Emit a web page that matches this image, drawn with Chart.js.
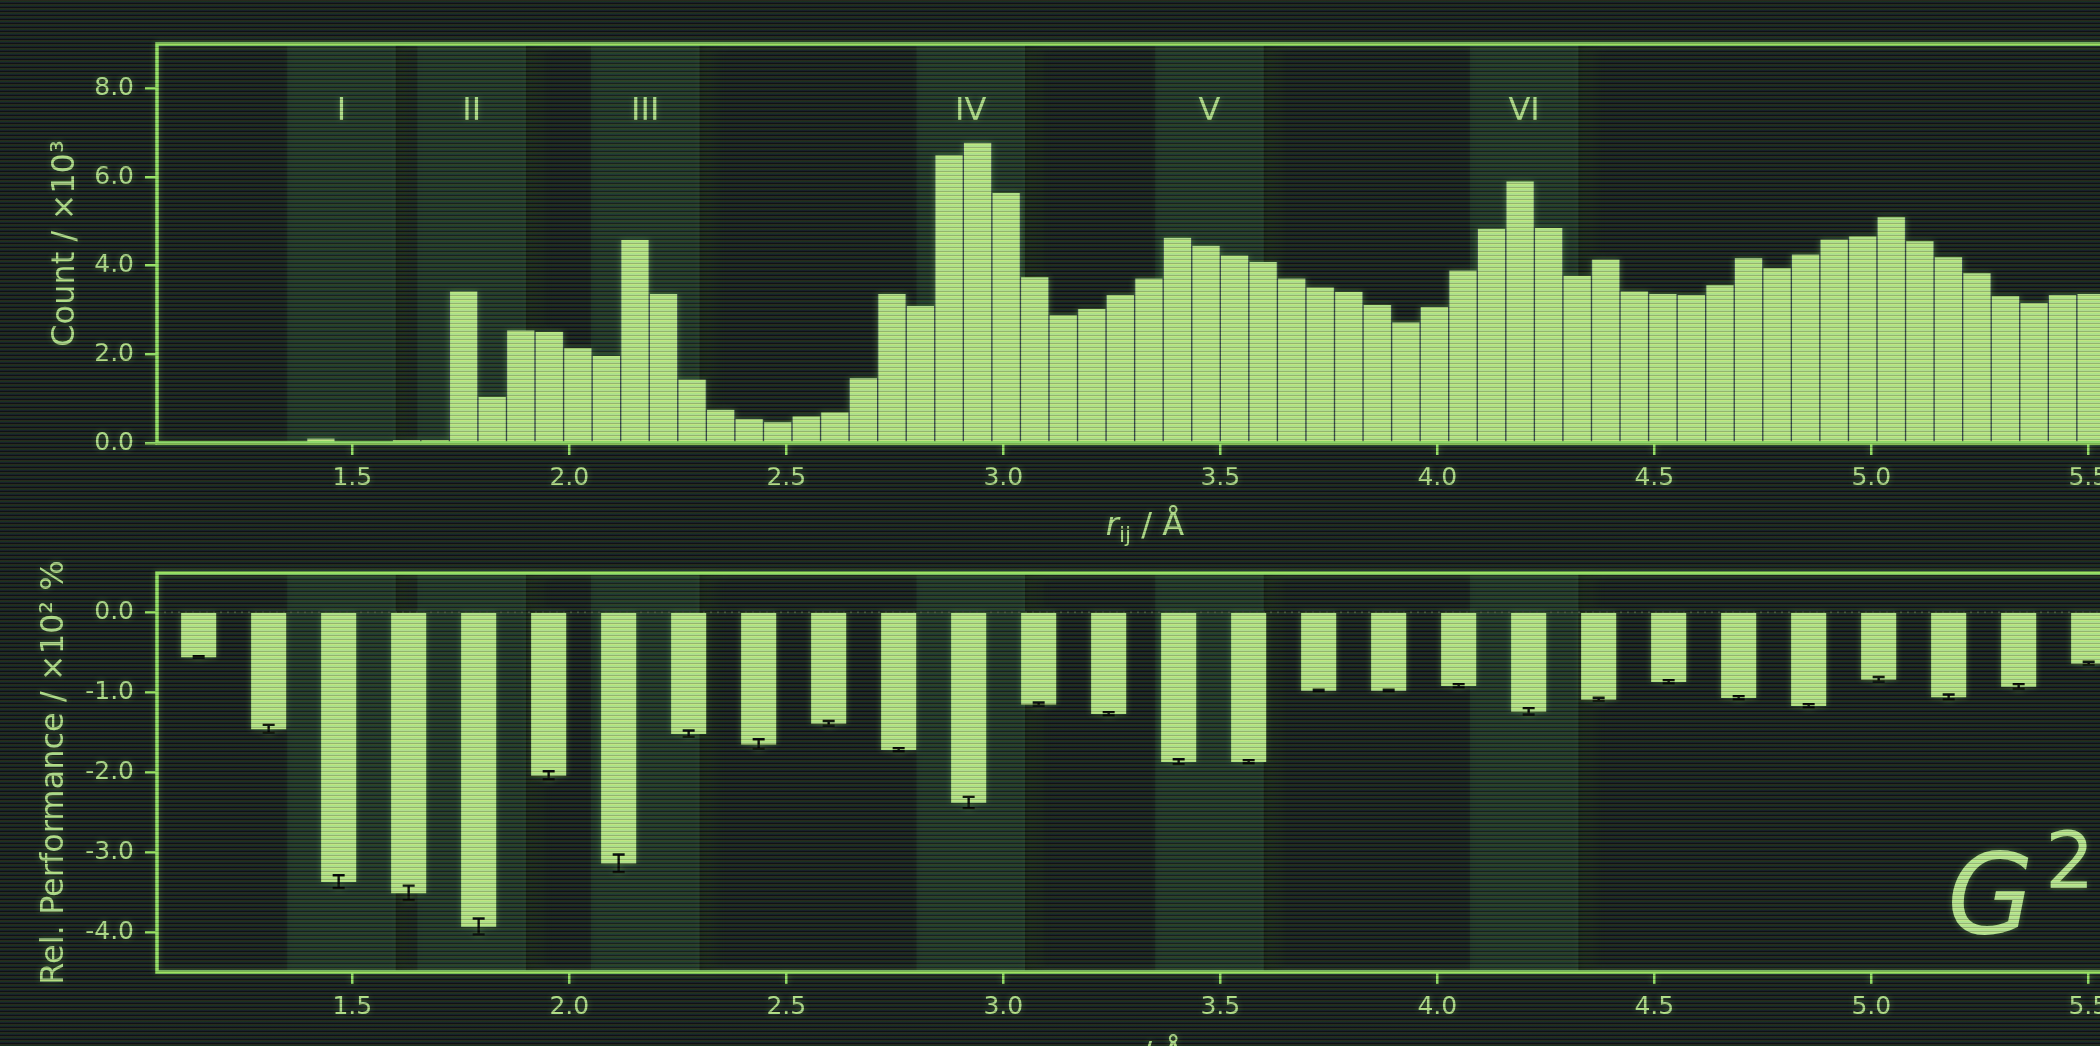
<!DOCTYPE html>
<html>
<head>
<meta charset="utf-8">
<title>Pair distances and relative performance</title>
<script src="https://cdn.jsdelivr.net/npm/chart.js@4.4.1/dist/chart.umd.min.js"></script>
<style>
  html, body { margin: 0; padding: 0; width: 2100px; height: 1046px; overflow: hidden; background: #14181a; }
  .panel { position: absolute; left: 0; filter: drop-shadow(0 0 3px rgba(150, 230, 110, 0.35)); }
  #countChart { top: 0; width: 2150px; height: 560px; }
  #perfChart { top: 560px; width: 2150px; height: 486px; }
  #scanlines {
    position: absolute; left: 0; top: 0; width: 2100px; height: 1046px; pointer-events: none;
    background: repeating-linear-gradient(to bottom,
      rgba(235, 200, 60, 0.10) 0px, rgba(235, 200, 60, 0.10) 1px,
      rgba(60, 210, 80, 0.14) 1px, rgba(60, 210, 80, 0.14) 2px,
      rgba(80, 100, 200, 0.10) 2px, rgba(80, 100, 200, 0.10) 3px,
      rgba(0, 0, 0, 0.22) 3px, rgba(0, 0, 0, 0.22) 4px);
  }
</style>
</head>
<body>
<canvas id="countChart" class="panel" width="2150" height="560"></canvas>
<canvas id="perfChart" class="panel" width="2150" height="486"></canvas>
<div id="scanlines"></div>
<script>
// pair distance histogram, bins of width 5/76 Å starting at 1.0 Å (count / 10^3)
const binStart = 1.0;
const binWidth = 5 / 76;
const pairCounts = [
  0, 0, 0, 0, 0, 0, 0.10, 0, 0, 0.06,
  0.06, 3.42, 1.04, 2.54, 2.51, 2.14, 1.96, 4.58, 3.36, 1.43,
  0.75, 0.54, 0.47, 0.60, 0.69, 1.46, 3.36, 3.09, 6.49, 6.77,
  5.64, 3.74, 2.88, 3.02, 3.34, 3.71, 4.63, 4.45, 4.23, 4.08,
  3.71, 3.51, 3.41, 3.11, 2.72, 3.07, 3.89, 4.83, 5.90, 4.85,
  3.77, 4.14, 3.42, 3.36, 3.34, 3.56, 4.17, 3.94, 4.25, 4.59,
  4.66, 5.09, 4.55, 4.19, 3.83, 3.31, 3.16, 3.34, 3.36
];

// relative performance per distance window (x10^2 %), with error
const windowStart = 1.146;
const windowStep = 5 / 31;
const relPerf = [
  -0.56, -1.46, -3.37, -3.51, -3.93, -2.04, -3.14, -1.52, -1.65, -1.39,
  -1.72, -2.38, -1.15, -1.27, -1.87, -1.87, -0.98, -0.98, -0.92, -1.24,
  -1.09, -0.87, -1.07, -1.17, -0.84, -1.06, -0.93, -0.64
];
const relPerfErr = [
  0.01, 0.05, 0.08, 0.09, 0.10, 0.05, 0.11, 0.04, 0.06, 0.03,
  0.02, 0.07, 0.02, 0.02, 0.03, 0.02, 0.01, 0.01, 0.02, 0.04,
  0.02, 0.02, 0.02, 0.02, 0.03, 0.03, 0.03, 0.02
];

// highlighted shells
const regionNames = ['I', 'II', 'III', 'IV', 'V', 'VI'];
const regionStart = [1.35, 1.65, 2.05, 2.80, 3.35, 4.075];
const regionEnd = [1.60, 1.90, 2.30, 3.05, 3.60, 4.325];

// axis ticks
const rTicks = [1.5, 2.0, 2.5, 3.0, 3.5, 4.0, 4.5, 5.0, 5.5];
const countTicks = [0, 2, 4, 6, 8];
const perfTicks = [0, -1, -2, -3, -4];

const FONT = 'DejaVu Sans';
const INK = '#b6df8e';
const SPINE = '#9ae468';
const BAR = '#bde88c';

//  shared linear axis setup with fixed box size so both panels line up
function axisOptions(min, max, tickValues, size, isX) {
  return {
    type: 'linear',
    min: min,
    max: max,
    offset: false,
    afterBuildTicks: (scale) => {
      scale.ticks = tickValues.map((v) => ({ value: v }));
    },
    afterFit: (scale) => {
      if (isX) scale.height = size;
      else scale.width = size;
      scale.paddingLeft = 0;
      scale.paddingRight = 0;
      scale.paddingTop = 0;
      scale.paddingBottom = 0;
    },
    ticks: {
      color: INK,
      font: { family: FONT, size: 25 },
      padding: isX ? 8 : 11,
      maxRotation: 0,
      autoSkip: false,
      callback: (v) => Number(v).toFixed(1),
    },
    grid: {
      offset: false,
      drawOnChartArea: false,
      color: SPINE,
      lineWidth: 2.5,
      tickLength: 12,
      tickWidth: 2.5,
      tickColor: SPINE,
    },
    border: { display: false },
  };
}

//  shaded shells behind the bars, plus the axes frame on top
const regionsPlugin = {
  id: 'regions',
  beforeDatasetsDraw(chart) {
    const { ctx, chartArea: a, scales } = chart;
    const x = scales.x;
    ctx.save();
    ctx.beginPath();
    ctx.rect(a.left, a.top, a.right - a.left, a.bottom - a.top);
    ctx.clip();
    regionStart.forEach((s, i) => {
      const x0 = x.getPixelForValue(s);
      const x1 = x.getPixelForValue(regionEnd[i]);
      const g = ctx.createLinearGradient(x1, 0, x1 + 24, 0);
      g.addColorStop(0, 'rgba(0,0,0,0.35)');
      g.addColorStop(1, 'rgba(0,0,0,0)');
      ctx.fillStyle = g;
      ctx.fillRect(x1, a.top, 24, a.bottom - a.top);
      ctx.fillStyle = 'rgba(70,170,110,0.11)';
      ctx.fillRect(x0, a.top, x1 - x0, a.bottom - a.top);
    });
    ctx.restore();
  },
  afterDraw(chart) {
    const { ctx, chartArea: a } = chart;
    ctx.save();
    ctx.strokeStyle = SPINE;
    ctx.lineWidth = 3.5;
    ctx.strokeRect(a.left, a.top, a.right - a.left, a.bottom - a.top);
    ctx.restore();
  },
};

function drawYLabel(ctx, text, baselineX, centreY) {
  ctx.save();
  ctx.translate(baselineX, centreY);
  ctx.rotate(-Math.PI / 2);
  ctx.font = '32px ' + FONT;
  ctx.fillStyle = INK;
  ctx.textAlign = 'center';
  ctx.textBaseline = 'alphabetic';
  ctx.fillText(text, 0, 0);
  ctx.restore();
}

//  r_ij / Å with italic r and subscript ij
function drawRLabel(ctx, centreX, baseline) {
  const parts = [
    { t: 'r', f: 'italic 32px ' + FONT, dy: 0 },
    { t: 'ij', f: '22px ' + FONT, dy: 7 },
    { t: ' / Å', f: '32px ' + FONT, dy: 0 },
  ];
  let w = 0;
  parts.forEach((p) => {
    ctx.font = p.f;
    p.w = ctx.measureText(p.t).width;
    w += p.w;
  });
  let x = centreX - w / 2;
  ctx.save();
  ctx.fillStyle = INK;
  ctx.textAlign = 'left';
  ctx.textBaseline = 'alphabetic';
  parts.forEach((p) => {
    ctx.font = p.f;
    ctx.fillText(p.t, x, baseline + p.dy);
    x += p.w;
  });
  ctx.restore();
}

const countLabels = {
  id: 'countLabels',
  afterDraw(chart) {
    const { ctx, chartArea: a, scales } = chart;
    drawYLabel(ctx, 'Count / ×10³', 74, (a.top + a.bottom) / 2);
    drawRLabel(ctx, (a.left + a.right) / 2, a.bottom + 92);
    ctx.save();
    ctx.font = '32px ' + FONT;
    ctx.fillStyle = INK;
    ctx.textAlign = 'center';
    ctx.textBaseline = 'alphabetic';
    regionNames.forEach((name, i) => {
      const cx = scales.x.getPixelForValue((regionStart[i] + regionEnd[i]) / 2);
      ctx.fillText(name, cx, 120);
    });
    ctx.restore();
  },
};

const perfLabels = {
  id: 'perfLabels',
  beforeDatasetsDraw(chart) {
    // dotted zero line
    const { ctx, chartArea: a, scales } = chart;
    const y0 = scales.y.getPixelForValue(0);
    ctx.save();
    ctx.strokeStyle = '#3c4a3c';
    ctx.lineWidth = 2;
    ctx.setLineDash([2, 5]);
    ctx.beginPath();
    ctx.moveTo(a.left, y0);
    ctx.lineTo(a.right, y0);
    ctx.stroke();
    ctx.restore();
  },
  afterDatasetsDraw(chart) {
    // error bars
    const { ctx, scales } = chart;
    ctx.save();
    ctx.strokeStyle = '#050505';
    ctx.lineWidth = 2.4;
    relPerf.forEach((v, i) => {
      const x = scales.x.getPixelForValue(windowStart + i * windowStep);
      const yA = scales.y.getPixelForValue(v - relPerfErr[i]);
      const yB = scales.y.getPixelForValue(v + relPerfErr[i]);
      ctx.beginPath();
      ctx.moveTo(x, yA); ctx.lineTo(x, yB);
      ctx.moveTo(x - 6, yA); ctx.lineTo(x + 6, yA);
      ctx.moveTo(x - 6, yB); ctx.lineTo(x + 6, yB);
      ctx.stroke();
    });
    ctx.restore();
  },
  afterDraw(chart) {
    const { ctx, chartArea: a } = chart;
    drawYLabel(ctx, 'Rel. Performance / ×10² %', 63, (a.top + a.bottom) / 2);
    drawRLabel(ctx, (a.left + a.right) / 2, a.bottom + 92);
    ctx.save();
    ctx.fillStyle = '#bfe995';
    ctx.textAlign = 'left';
    ctx.textBaseline = 'alphabetic';
    ctx.font = 'italic 112px ' + FONT;
    ctx.fillText('G', 1947, 373);
    ctx.font = '78px ' + FONT;
    ctx.fillText('2', 2045, 328);
    ctx.restore();
  },
};

const common = {
  responsive: false,
  animation: false,
  devicePixelRatio: 1,
  events: [],
  plugins: { legend: { display: false }, tooltip: { enabled: false } },
};

//  top panel: histogram
new Chart(document.getElementById('countChart'), {
  type: 'bar',
  data: {
    datasets: [{
      data: pairCounts.map((c, k) => ({ x: binStart + (k + 0.5) * binWidth, y: c })),
      backgroundColor: BAR,
      borderColor: '#37464a',
      borderWidth: { left: 1, right: 1, top: 0, bottom: 0 },
      borderSkipped: false,
      barThickness: binWidth * 434,
    }],
  },
  options: {
    ...common,
    layout: { padding: { top: 44, right: 17, bottom: 0, left: 0 } },
    scales: {
      x: axisOptions(1.05, 5.603, rTicks, 117, true),
      y: axisOptions(0, 9.0, countTicks, 157, false),
    },
  },
  plugins: [regionsPlugin, countLabels],
});

//  bottom panel: relative performance per window
new Chart(document.getElementById('perfChart'), {
  type: 'bar',
  data: {
    datasets: [{
      data: relPerf.map((v, i) => ({ x: windowStart + i * windowStep, y: v })),
      backgroundColor: BAR,
      borderWidth: 0,
      barThickness: 34.4,
    }],
  },
  options: {
    ...common,
    layout: { padding: { top: 13, right: 17, bottom: 0, left: 0 } },
    scales: {
      x: axisOptions(1.05, 5.603, rTicks, 74, true),
      y: axisOptions(-4.5, 0.49, perfTicks, 157, false),
    },
  },
  plugins: [regionsPlugin, perfLabels],
});
</script>
</body>
</html>
